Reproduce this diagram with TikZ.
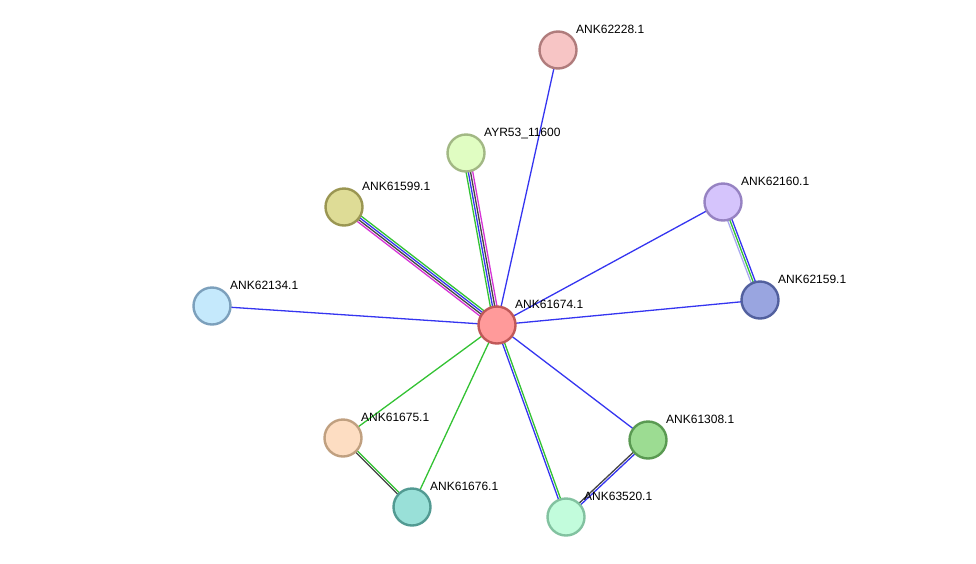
\documentclass[tikz,border=0pt]{standalone}
\usepackage{fontspec}
\setmainfont{Liberation Sans}
\usetikzlibrary{calc,backgrounds}
\definecolor{eblue}{HTML}{3535F0}
\definecolor{egreen}{HTML}{33C233}
\definecolor{emag}{HTML}{D633D6}
\definecolor{eblack}{HTML}{444444}
\definecolor{elblue}{HTML}{A8A8F0}
\tikzset{
  prot/.style={circle,minimum size=37pt,inner sep=0pt,line width=2.4pt},
  plabel/.style={anchor=base west,inner sep=0pt,font=\fontsize{12}{14}\selectfont},
  edg/.style={line width=1.3pt}
}
\newcommand{\prot}[6]{%
  \definecolor{#1fill}{HTML}{#4}\definecolor{#1line}{HTML}{#5}%
  \node[prot,fill=#1fill,draw=#1line] (#1) at (#2,#3) {};
  \node[plabel] (#1-l) at (#2+18,#3-17) {#6};}
\newcommand{\medge}[4]{%
  \draw[edg,#4] ($(#1.center)!#3!90:(#2.center)$) -- ($(#2.center)!#3!-90:(#1.center)$);}
\begin{document}
\begin{tikzpicture}[x=1pt,y=-1pt]
\useasboundingbox (0,0) rectangle (976,563);
\prot{c}{497}{325}{FF9A9A}{C05858}{ANK61674.1}
\prot{a228}{558}{50}{F7C5C5}{B07C7C}{ANK62228.1}
\prot{ayr}{466}{153}{E0FDC2}{A2B884}{AYR53\_11600}
\prot{a599}{344}{207}{DEDC96}{9A9652}{ANK61599.1}
\prot{a160}{723}{202}{D5C4FC}{9682C2}{ANK62160.1}
\prot{a159}{760}{300}{99A5E0}{52609E}{ANK62159.1}
\prot{a134}{212}{306}{C5E9FC}{7CA0BC}{ANK62134.1}
\prot{a675}{343}{438}{FDDDC2}{C0A080}{ANK61675.1}
\prot{a676}{412}{507}{99E0D8}{529A92}{ANK61676.1}
\prot{a308}{648}{440}{9CDC92}{5A9A52}{ANK61308.1}
\prot{a520}{566}{517}{C2FCDC}{82C2A0}{ANK63520.1}
\begin{pgfonlayer}{background}
\medge{c}{a228}{0pt}{eblue}
\medge{c}{a134}{0pt}{eblue}
\medge{c}{a160}{0pt}{eblue}
\medge{c}{a159}{0pt}{eblue}
\medge{c}{a308}{0pt}{eblue}
\medge{c}{a675}{0pt}{egreen}
\medge{c}{a676}{0pt}{egreen}
% center - AYR53
\medge{c}{ayr}{3.3pt}{egreen}
\medge{c}{ayr}{1.1pt}{eblue}
\medge{c}{ayr}{-1.1pt}{eblack}
\medge{c}{ayr}{-3.3pt}{emag}
% center - ANK61599
\medge{c}{a599}{-3.3pt}{egreen}
\medge{c}{a599}{-1.1pt}{eblue}
\medge{c}{a599}{1.1pt}{eblack}
\medge{c}{a599}{3.3pt}{emag}
% ANK62160 - ANK62159
\medge{a160}{a159}{-2.2pt}{elblue}
\medge{a160}{a159}{0pt}{egreen}
\medge{a160}{a159}{2.2pt}{eblue}
% ANK61675 - ANK61676
\medge{a675}{a676}{-1.1pt}{eblack}
\medge{a675}{a676}{1.1pt}{egreen}
% center - ANK63520
\medge{c}{a520}{-1.1pt}{eblue}
\medge{c}{a520}{1.1pt}{egreen}
% ANK61308 - ANK63520
\medge{a308}{a520}{-1.1pt}{eblack}
\medge{a308}{a520}{1.1pt}{eblue}
\end{pgfonlayer}
\end{tikzpicture}
\end{document}
